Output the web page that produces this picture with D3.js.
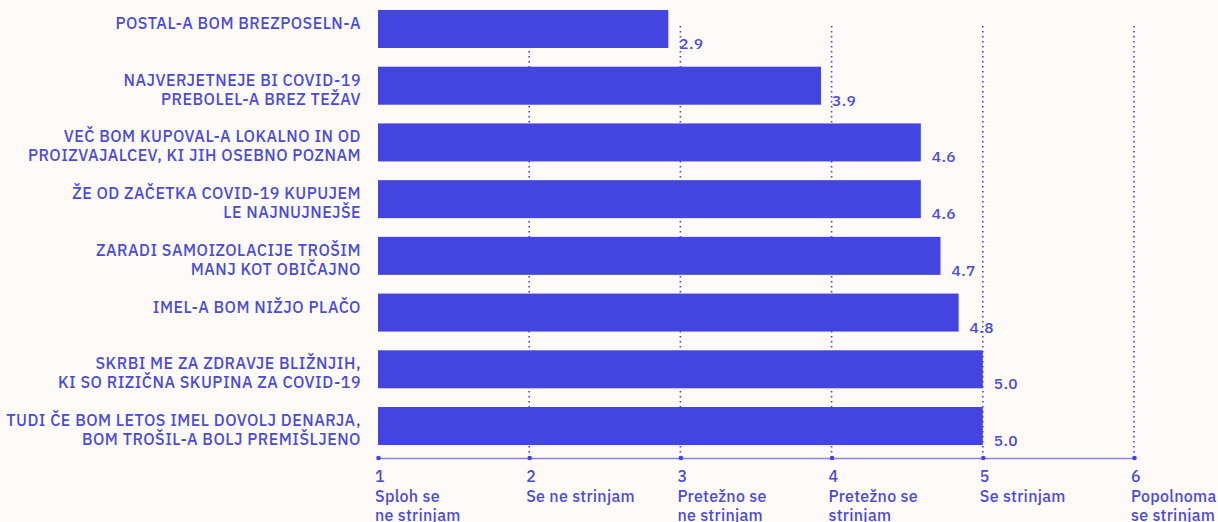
<!DOCTYPE html>
<html><head><meta charset="utf-8">
<script src="https://cdn.jsdelivr.net/npm/d3@7"></script>
<style>
html,body{margin:0;padding:0;background:#fefaf7;}
svg{display:block;}
text{font-family:"IBM Plex Sans","Inter","Noto Sans",sans-serif;font-weight:500;}
</style></head><body>
<svg id="chart" width="1218" height="522"></svg>
<script>
const categories = [
  ["POSTAL-A BOM BREZPOSELN-A"],
  ["NAJVERJETNEJE BI COVID-19", "PREBOLEL-A BREZ TEŽAV"],
  ["VEČ BOM KUPOVAL-A LOKALNO IN OD", "PROIZVAJALCEV, KI JIH OSEBNO POZNAM"],
  ["ŽE OD ZAČETKA COVID-19 KUPUJEM", "LE NAJNUJNEJŠE"],
  ["ZARADI SAMOIZOLACIJE TROŠIM", "MANJ KOT OBIČAJNO"],
  ["IMEL-A BOM NIŽJO PLAČO"],
  ["SKRBI ME ZA ZDRAVJE BLIŽNJIH,", "KI SO RIZIČNA SKUPINA ZA COVID-19"],
  ["TUDI ČE BOM LETOS IMEL DOVOLJ DENARJA,", "BOM TROŠIL-A BOLJ PREMIŠLJENO"]
];
const values = [2.92, 3.93, 4.59, 4.59, 4.72, 4.84, 5.0, 5.0];
const tickValues = [1, 2, 3, 4, 5, 6];
const tickLabels = [
  ["Sploh se", "ne strinjam"],
  ["Se ne strinjam"],
  ["Pretežno se", "ne strinjam"],
  ["Pretežno se", "strinjam"],
  ["Se strinjam"],
  ["Popolnoma", "se strinjam"]
];

const barColor = "#4444e0", textColor = "#4a4ad8", axisColor = "#8585ea";
const svg = d3.select("#chart");
const x = d3.scaleLinear().domain([1, 6]).range([378, 1134]);
const y = d3.scaleBand().domain(d3.range(categories.length)).range([10, 445]).paddingInner(0.33).paddingOuter(0);
const axisY = 458;

// gridlines
svg.append("g").selectAll("line").data(tickValues.slice(1)).join("line")
  .attr("x1", d => x(d)).attr("x2", d => x(d))
  .attr("y1", 26).attr("y2", axisY)
  .attr("stroke", barColor).attr("stroke-width", 1.6)
  .attr("stroke-dasharray", "1.6,3.4");

// bars
svg.append("g").selectAll("rect").data(values).join("rect")
  .attr("x", x(1)).attr("y", (d, i) => y(i))
  .attr("width", d => x(d) - x(1)).attr("height", y.bandwidth())
  .attr("fill", barColor);

// value labels
svg.append("g").selectAll("text").data(values).join("text")
  .attr("x", d => x(d) + 11).attr("y", (d, i) => y(i) + y.bandwidth() + 1)
  .attr("fill", textColor).attr("font-size", 15.5).attr("letter-spacing", 0.4)
  .text(d => d.toFixed(1));

// category labels
const cl = svg.append("g").selectAll("text").data(categories).join("text")
  .attr("x", 361).attr("y", (d, i) => y(i) + 19)
  .attr("text-anchor", "end").attr("fill", textColor)
  .attr("font-size", 16).attr("letter-spacing", 0.5);
cl.selectAll("tspan").data(d => d).join("tspan")
  .attr("x", 361).attr("dy", (d, j) => j === 0 ? 0 : 19).text(d => d);

// axis
const axis = d3.axisBottom(x).tickValues(tickValues).tickSize(0).tickFormat("");
const ag = svg.append("g").attr("transform", `translate(0,${axisY})`).call(axis);
ag.select(".domain").attr("stroke", axisColor).attr("stroke-width", 1.5);
ag.selectAll(".tick").append("circle").attr("r", 2.3).attr("fill", barColor);

const tl = svg.append("g").selectAll("text").data(tickValues).join("text")
  .attr("x", d => x(d) - 3).attr("y", 482)
  .attr("fill", textColor).attr("font-size", 16).attr("letter-spacing", 0.3);
tl.append("tspan").attr("x", d => x(d) - 3).text(d => d);
tl.selectAll("tspan.l").data((d, i) => tickLabels[i]).join("tspan").attr("class", "l")
  .attr("x", function() { return +d3.select(this.parentNode).attr("x"); })
  .attr("dy", 19.5).text(d => d);
</script>
</body></html>
